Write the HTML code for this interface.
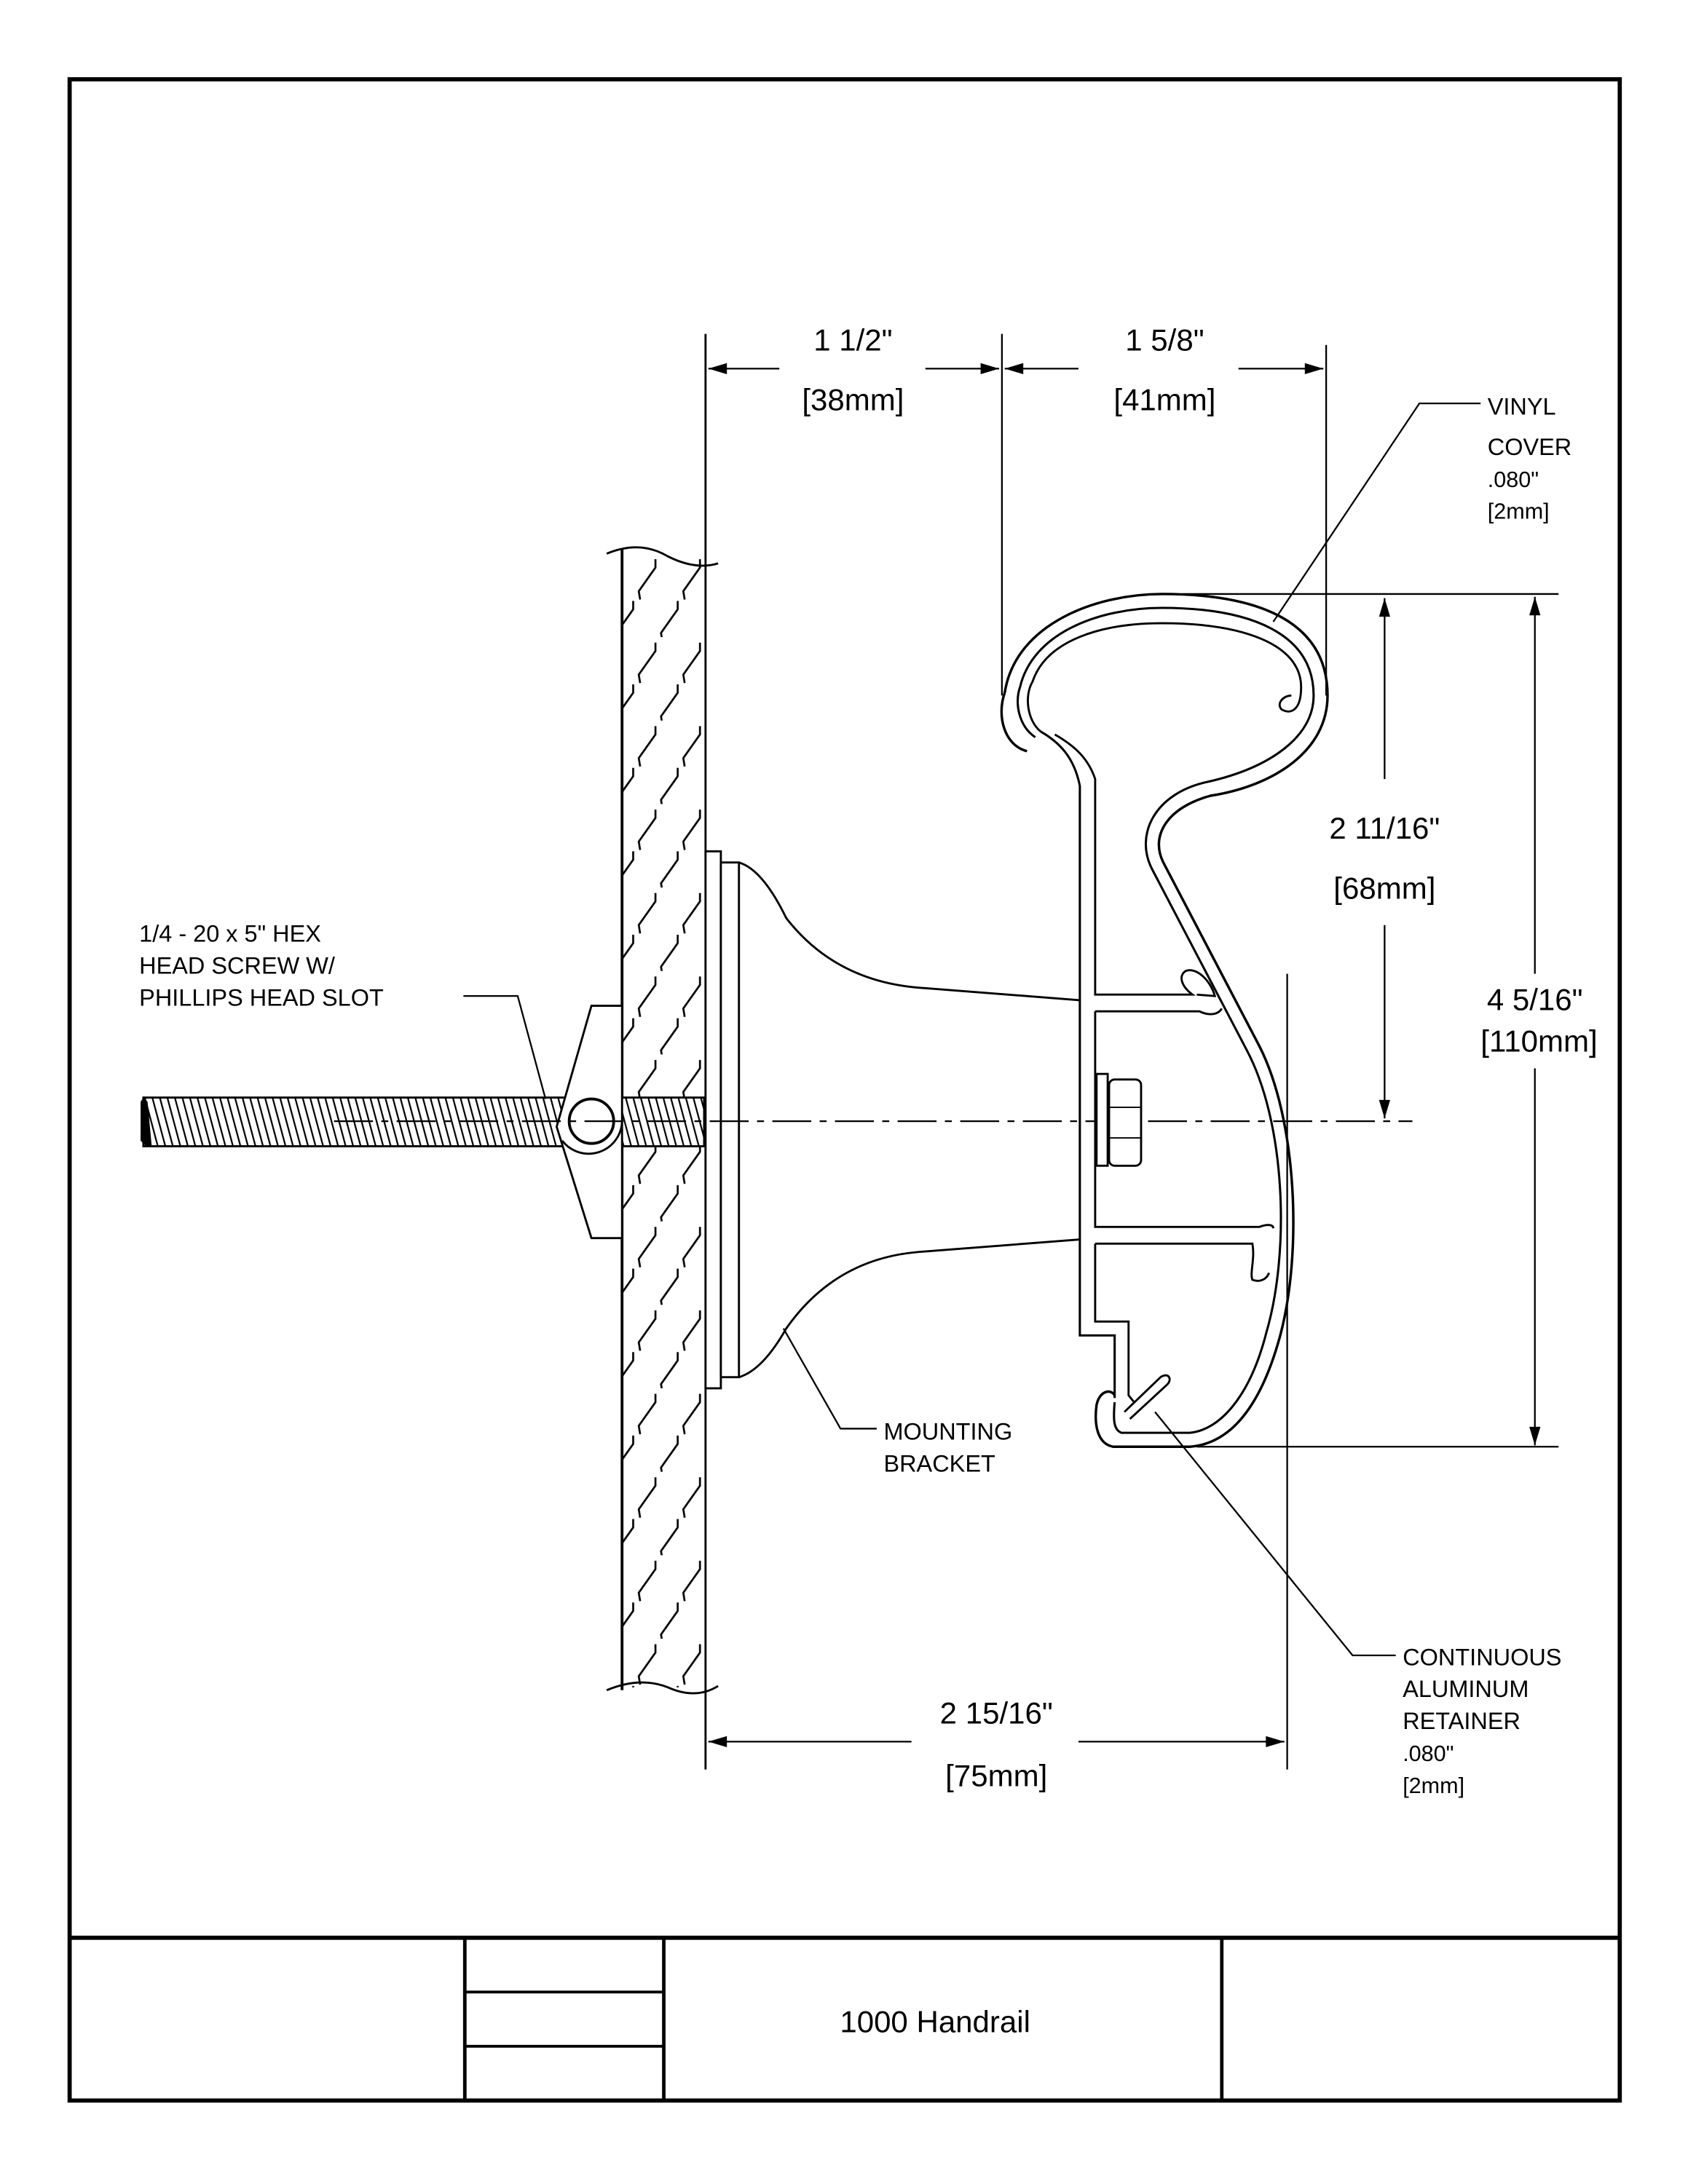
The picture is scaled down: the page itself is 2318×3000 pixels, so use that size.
<!DOCTYPE html>
<html><head><meta charset="utf-8"><style>
html,body{margin:0;padding:0;background:#fff;}
svg{display:block;}
text{font-family:"Liberation Sans",Arial,sans-serif;fill:#000;}
</style></head><body>
<svg width="2318" height="3000" viewBox="0 0 1213 1570" xmlns="http://www.w3.org/2000/svg">
<defs>
<marker id="ar" viewBox="0 0 10 6" refX="10" refY="3" markerWidth="18" markerHeight="8" markerUnits="userSpaceOnUse" orient="auto"><path d="M0,0 L10,3 L0,6 z" fill="#000"/></marker>
<pattern id="wall" x="447" y="398" width="32" height="60" patternUnits="userSpaceOnUse">
<path d="M24,4 L24,10 L12,27 L13,33" stroke="#000" stroke-width="1.4" fill="none"/>
<path d="M8,34 L8,40 L-4,57 L-3,63 M40,34 L40,40 L28,57 L29,63" stroke="#000" stroke-width="1.4" fill="none"/>
</pattern>
<pattern id="thr" width="5.4" height="40" patternUnits="userSpaceOnUse" patternTransform="skewX(15)">
<rect width="1.2" height="40" fill="#000"/>
</pattern>
</defs>
<rect width="1213" height="1570" fill="#fff"/>
<!-- frame -->
<rect x="50" y="57" width="1114" height="1453" fill="none" stroke="#000" stroke-width="3"/>
<line x1="50" y1="1393" x2="1164" y2="1393" stroke="#000" stroke-width="3"/>
<line x1="334" y1="1393" x2="334" y2="1510" stroke="#000" stroke-width="2.5"/>
<line x1="477" y1="1393" x2="477" y2="1510" stroke="#000" stroke-width="2.5"/>
<line x1="878" y1="1393" x2="878" y2="1510" stroke="#000" stroke-width="2.5"/>
<line x1="334" y1="1432" x2="477" y2="1432" stroke="#000" stroke-width="2"/>
<line x1="334" y1="1471" x2="477" y2="1471" stroke="#000" stroke-width="2"/>
<text x="672" y="1461" font-size="22" text-anchor="middle">1000 Handrail</text>

<!-- wall -->
<rect x="447" y="398" width="60" height="815" fill="url(#wall)"/>
<line x1="447" y1="395" x2="447" y2="1215" stroke="#000" stroke-width="2"/>
<line x1="507" y1="240" x2="507" y2="1272" stroke="#000" stroke-width="1.5"/>
<path d="M436,398 Q460,388 480,400 Q500,410 516,405" fill="none" stroke="#000" stroke-width="1.5"/>
<path d="M436,1215 Q460,1205 480,1213 Q500,1222 516,1212" fill="none" stroke="#000" stroke-width="1.5"/>

<!-- screw -->
<rect x="103" y="789" width="403" height="35" fill="#fff"/>
<rect x="103" y="789" width="403" height="35" fill="url(#thr)" stroke="#000" stroke-width="1.5"/>
<path d="M103,789 L101,792 L101,820 L105,824 L109,824 L106,792 Z" fill="#000"/>
<!-- toggle -->
<path d="M425,723 L447,723 L447,890 L425,890 L400,810 Z" fill="#fff" stroke="#000" stroke-width="1.5"/>
<path d="M447,806 A24,24 0 0 1 404,820" fill="none" stroke="#000" stroke-width="1.5"/>
<circle cx="425" cy="806" r="16" fill="#fff" stroke="#000" stroke-width="2"/>

<!-- bracket -->
<rect x="507" y="612" width="11" height="386" fill="#fff" stroke="#000" stroke-width="1.5"/>
<rect x="518" y="620" width="13" height="370" fill="#fff" stroke="#000" stroke-width="1.5"/>
<path d="M531,620 Q548,625 565,660 Q600,705 660,710 L776,719" fill="none" stroke="#000" stroke-width="1.5"/>
<path d="M531,990 Q548,985 565,955 Q600,905 660,900 L776,891" fill="none" stroke="#000" stroke-width="1.5"/>

<!-- centerline -->
<line x1="240" y1="806" x2="1015" y2="806" stroke="#000" stroke-width="1.2" stroke-dasharray="28,6,5,6"/>

<!-- rail: vinyl outer -->
<path d="M738,540 C722,536 716,515 722,498 C730,447 790,427 835,427 C905,427 954,447 954,500 C954,540 915,565 870,572 C840,580 826,600 836,620 L905,752 C932,805 936,900 920,960 C905,1015 882,1038 855,1040 L800,1040 C789,1038 786,1025 788,1010 C790,1000 798,998 801,1003" fill="none" stroke="#000" stroke-width="1.8"/>
<path d="M744,530 C732,522 729,505 733,494 C742,455 790,437 835,437 C898,437 944,455 944,500 C944,530 912,552 868,562 C830,570 815,600 828,625 L896,755 C924,808 927,900 910,958 C898,1005 876,1028 855,1030 L806,1030 C800,1028 800,1020 801,1008" fill="none" stroke="#000" stroke-width="1.6"/>
<path d="M748,526 C738,518 736,500 742,490 C752,460 792,448 835,448 C893,448 935,463 935,494 C935,510 928,514 921,510 C917,506 922,500 928,500" fill="none" stroke="#000" stroke-width="1.5"/>
<path d="M748,526 C762,534 772,545 776,565 L776,960 L801,960 L801,1005" fill="none" stroke="#000" stroke-width="1.6"/>
<path d="M758,528 C772,536 782,545 787,560 L787,715 L857,715 C850,710 846,702 852,698 C860,695 870,705 873,716 L860,715 M787,727 L862,727 C868,730 875,730 878,725" fill="none" stroke="#000" stroke-width="1.5"/>
<path d="M787,727 L787,882 L905,882 C910,880 915,880 915,883 M787,894 L900,894 C902,905 898,915 900,920 C905,922 910,920 912,915" fill="none" stroke="#000" stroke-width="1.5"/>
<path d="M787,894 L787,950 L811,950 L811,1003 L815,1008" fill="none" stroke="#000" stroke-width="1.5"/>
<path d="M808,1015 L834,990 C840,986 843,992 838,996 L812,1020" fill="#fff" stroke="#000" stroke-width="1.5"/>
<rect x="788" y="772" width="8" height="66" fill="#fff" stroke="#000" stroke-width="1.5"/>
<rect x="797" y="776" width="23" height="62" rx="4" fill="#fff" stroke="#000" stroke-width="1.5"/>
<line x1="797" y1="796" x2="820" y2="796" stroke="#000"/><line x1="797" y1="818" x2="820" y2="818" stroke="#000"/>

<!-- dimensions -->
<line x1="720" y1="240" x2="720" y2="500" stroke="#000" stroke-width="1.2"/>
<line x1="953" y1="248" x2="953" y2="500" stroke="#000" stroke-width="1.2"/>
<line x1="925" y1="700" x2="925" y2="1272" stroke="#000" stroke-width="1.2"/>
<line x1="560" y1="265" x2="509" y2="265" stroke="#000" stroke-width="1.2" marker-end="url(#ar)"/>
<line x1="665" y1="265" x2="718" y2="265" stroke="#000" stroke-width="1.2" marker-end="url(#ar)"/>
<line x1="775" y1="265" x2="722" y2="265" stroke="#000" stroke-width="1.2" marker-end="url(#ar)"/>
<line x1="890" y1="265" x2="951" y2="265" stroke="#000" stroke-width="1.2" marker-end="url(#ar)"/>
<text x="613" y="252" font-size="22" text-anchor="middle">1 1/2"</text>
<text x="613" y="295" font-size="22" text-anchor="middle">[38mm]</text>
<text x="837" y="252" font-size="22" text-anchor="middle">1 5/8"</text>
<text x="837" y="295" font-size="22" text-anchor="middle">[41mm]</text>

<line x1="850" y1="427" x2="1120" y2="427" stroke="#000" stroke-width="1.2"/>
<line x1="860" y1="1040" x2="1120" y2="1040" stroke="#000" stroke-width="1.2"/>
<line x1="995" y1="560" x2="995" y2="430" stroke="#000" stroke-width="1.2" marker-end="url(#ar)"/>
<line x1="995" y1="665" x2="995" y2="804" stroke="#000" stroke-width="1.2" marker-end="url(#ar)"/>
<text x="995" y="603" font-size="22" text-anchor="middle">2 11/16"</text>
<text x="995" y="646" font-size="22" text-anchor="middle">[68mm]</text>
<line x1="1103" y1="700" x2="1103" y2="429" stroke="#000" stroke-width="1.2" marker-end="url(#ar)"/>
<line x1="1103" y1="768" x2="1103" y2="1039" stroke="#000" stroke-width="1.2" marker-end="url(#ar)"/>
<text x="1103" y="726" font-size="22" text-anchor="middle">4 5/16"</text>
<text x="1106" y="756" font-size="22" text-anchor="middle">[110mm]</text>

<line x1="655" y1="1252" x2="509" y2="1252" stroke="#000" stroke-width="1.2" marker-end="url(#ar)"/>
<line x1="775" y1="1252" x2="923" y2="1252" stroke="#000" stroke-width="1.2" marker-end="url(#ar)"/>
<text x="716" y="1239" font-size="22" text-anchor="middle">2 15/16"</text>
<text x="716" y="1284" font-size="22" text-anchor="middle">[75mm]</text>

<!-- labels -->
<text x="100" y="677" font-size="17">1/4 - 20 x 5" HEX</text>
<text x="100" y="700" font-size="17">HEAD SCREW W/</text>
<text x="100" y="723" font-size="17">PHILLIPS HEAD SLOT</text>
<polyline points="333,716 372,716 392,790" fill="none" stroke="#000" stroke-width="1.2"/>
<text x="1069" y="298" font-size="17">VINYL</text>
<text x="1069" y="327" font-size="17">COVER</text>
<text x="1069" y="350" font-size="16">.080"</text>
<text x="1069" y="373" font-size="16">[2mm]</text>
<polyline points="1064,290 1020,290 915,447" fill="none" stroke="#000" stroke-width="1.2"/>
<text x="635" y="1035" font-size="17">MOUNTING</text>
<text x="635" y="1058" font-size="17">BRACKET</text>
<polyline points="630,1027 604,1027 563,955" fill="none" stroke="#000" stroke-width="1.2"/>
<text x="1008" y="1197" font-size="17">CONTINUOUS</text>
<text x="1008" y="1220" font-size="17">ALUMINUM</text>
<text x="1008" y="1243" font-size="17">RETAINER</text>
<text x="1008" y="1266" font-size="16">.080"</text>
<text x="1008" y="1289" font-size="16">[2mm]</text>
<polyline points="1003,1190 972,1190 830,1015" fill="none" stroke="#000" stroke-width="1.2"/>
</svg>
</body></html>
